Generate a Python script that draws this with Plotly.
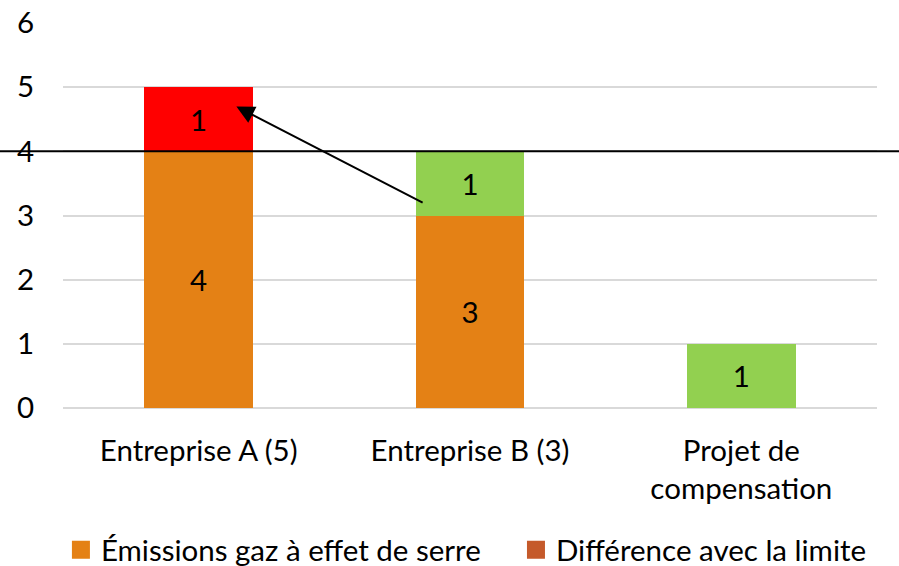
import plotly.graph_objects as go

categories = ["Entreprise A (5)", "Entreprise B (3)", "Projet de<br>compensation"]
emissions = [4, 3, 0]
difference = [1, 1, 1]
diff_colors = ["#FF0000", "#92D050", "#92D050"]
limit_value = 4
yticks = [0, 1, 2, 3, 4, 5, 6]
series_names = ["Émissions gaz à effet de serre", "Différence avec la limite"]

FONT = "Lato"
FS = 29.5
ORANGE = "#E48115"
BROWN = "#C55A2B"

fig = go.Figure()
fig.add_trace(go.Bar(
    x=categories, y=emissions, name=series_names[0], showlegend=False,
    marker=dict(color=ORANGE, line=dict(width=0)),
    text=[str(v) if v else "" for v in emissions], textposition="inside",
    insidetextanchor="middle", textfont=dict(color="black", size=FS, family=FONT),
))
fig.add_trace(go.Bar(
    x=categories, y=difference, name=series_names[1], showlegend=False,
    marker=dict(color=diff_colors, line=dict(width=0)),
    text=[str(v) for v in difference], textposition="inside",
    insidetextanchor="middle", textfont=dict(color="black", size=FS, family=FONT),
))
# legend entries
fig.add_trace(go.Scatter(
    x=[None], y=[None], mode="markers", name=series_names[0] + "\u00a0" * 4,
    marker=dict(color=ORANGE, symbol="square", size=16, line=dict(color=ORANGE, width=2)),
))
fig.add_trace(go.Scatter(
    x=[None], y=[None], mode="markers", name=series_names[1],
    marker=dict(color=BROWN, symbol="square", size=16, line=dict(color=BROWN, width=2)),
))

fig.add_shape(type="line", xref="paper", yref="y",
              x0=-63 / 814, x1=1 + 22 / 814, y0=limit_value, y1=limit_value,
              line=dict(color="black", width=2), layer="above")

fig.add_annotation(x=0.139, y=4.70, ax=0.831, ay=3.19, xref="x", yref="y",
                   axref="x", ayref="y", text="", showarrow=True,
                   arrowhead=2, arrowsize=1.8, arrowwidth=2, arrowcolor="black")

fig.update_layout(
    width=899, height=566,
    margin=dict(l=63, r=22, t=23, b=158, autoexpand=False),
    paper_bgcolor="white", plot_bgcolor="white",
    barmode="stack", bargap=0.6,
    font=dict(family=FONT, size=FS, color="black"),
    uniformtext=dict(minsize=FS, mode="show"),
    xaxis=dict(showgrid=False, showline=False, ticks="", tickfont=dict(size=FS),
               automargin=False, ticklabelstandoff=22),
    yaxis=dict(range=[0, 6], tickvals=yticks, showgrid=True, gridcolor="#D9D9D9",
               gridwidth=1.5, zeroline=True, zerolinecolor="#D9D9D9", zerolinewidth=1.5,
               showline=False, ticks="", ticklabelstandoff=28, tickfont=dict(size=FS),
               automargin=False),
    legend=dict(orientation="h", x=0.4956, xanchor="center", y=-0.369, yanchor="middle",
                font=dict(size=FS), itemsizing="trace", traceorder="normal",
                itemwidth=30),
    showlegend=True,
)

fig.write_html("out.html", post_script="document.body.style.margin='0';",
               config={"displayModeBar": False})
